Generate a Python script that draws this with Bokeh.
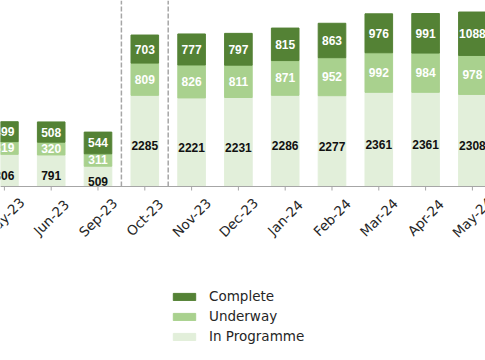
import math
from bokeh.plotting import figure
from bokeh.models import ColumnDataSource, Span, Legend, LegendItem, Range1d
from bokeh.embed import file_html
from bokeh.resources import INLINE
from bokeh.core.properties import value

months = ["May-23", "Jun-23", "Sep-23", "Oct-23", "Nov-23", "Dec-23",
          "Jan-24", "Feb-24", "Mar-24", "Apr-24", "May-24"]
in_programme = [806, 791, 509, 2285, 2221, 2231, 2286, 2277, 2361, 2361, 2308]
underway = [319, 320, 311, 809, 826, 811, 871, 952, 992, 984, 978]
complete = [499, 508, 544, 703, 777, 797, 815, 863, 976, 991, 1088]
separators = [2.5, 3.5]

C_COMPLETE = "#548235"
C_UNDERWAY = "#a9d18e"
C_INPROG = "#e2efda"
GRID_GREY = "#a6a6a6"

Y_TOP = 4663
Y_BOTTOM = -4362

xs = list(range(len(months)))
src = ColumnDataSource(dict(
    x=xs, ip=in_programme, uw=underway, cp=complete,
    ip_y=[a / 2 for a in in_programme],
    uw_y=[a + b / 2 for a, b in zip(in_programme, underway)],
    cp_y=[a + b + c / 2 for a, b, c in zip(in_programme, underway, complete)],
    ip_t=[str(v) for v in in_programme],
    uw_t=[str(v) for v in underway],
    cp_t=[str(v) for v in complete],
    base=[0] * len(xs),
    month=months,
))

p = figure(width=485, height=360,
           x_range=Range1d(-0.0833, 10.28), y_range=Range1d(Y_BOTTOM, Y_TOP),
           output_backend="svg", toolbar_location=None,
           x_axis_location=None, y_axis_location=None,
           min_border_left=0, min_border_right=0, min_border_top=0,
           min_border_bottom=0)
p.outline_line_color = None
p.xgrid.visible = False
p.ygrid.visible = False
p.background_fill_color = "white"
p.border_fill_color = "white"

# tick marks (upper half hidden by the bars)
p.scatter(x="x", y="base", source=src, marker="dash", angle=math.pi / 2,
          size=8, line_color=GRID_GREY, line_width=1)

rs = p.vbar_stack(["ip", "uw", "cp"], x="x", width=0.59,
                  color=[C_INPROG, C_UNDERWAY, C_COMPLETE], source=src)

# baseline (x axis line)
p.add_layout(Span(location=0, dimension="width", line_color=GRID_GREY,
                  line_width=1))

# dashed separators from the baseline to the top
p.segment(x0=separators, x1=separators, y0=[0] * len(separators),
          y1=[Y_TOP] * len(separators), line_color=GRID_GREY,
          line_dash="5 2", line_width=1.5)

common = dict(text_align="center", text_baseline="middle",
              text_font_size="12px", text_font_style="bold",
              text_font=value("Liberation Sans"))
p.text(x="x", y="ip_y", text="ip_t", source=src, text_color="#111111",
       y_offset=5, **common)
p.text(x="x", y="uw_y", text="uw_t", source=src, text_color="white", **common)
p.text(x="x", y="cp_y", text="cp_t", source=src, text_color="white", **common)

# month tick labels, rotated 45 degrees and centred under each tick
p.text(x="x", y="base", text="month", source=src, angle=math.pi / 4,
       text_align="center", text_baseline="middle", y_offset=31,
       text_font=value("DejaVu Sans"), text_font_size="13.5px",
       text_color="#262626")

legend = Legend(items=[
    LegendItem(label="Complete", renderers=[rs[2]]),
    LegendItem(label="Underway", renderers=[rs[1]]),
    LegendItem(label="In Programme", renderers=[rs[0]]),
], location=(170, 16))
legend.border_line_color = None
legend.background_fill_alpha = 0
legend.padding = 0
legend.margin = 0
legend.glyph_width = 28
legend.glyph_height = 9
legend.label_height = 9
legend.spacing = 4
legend.label_standoff = 11
legend.label_text_font = "DejaVu Sans"
legend.label_text_font_size = "13.5px"
legend.label_text_color = "#262626"
p.add_layout(legend, "center")

open("out.html", "w").write(file_html(p, INLINE))
